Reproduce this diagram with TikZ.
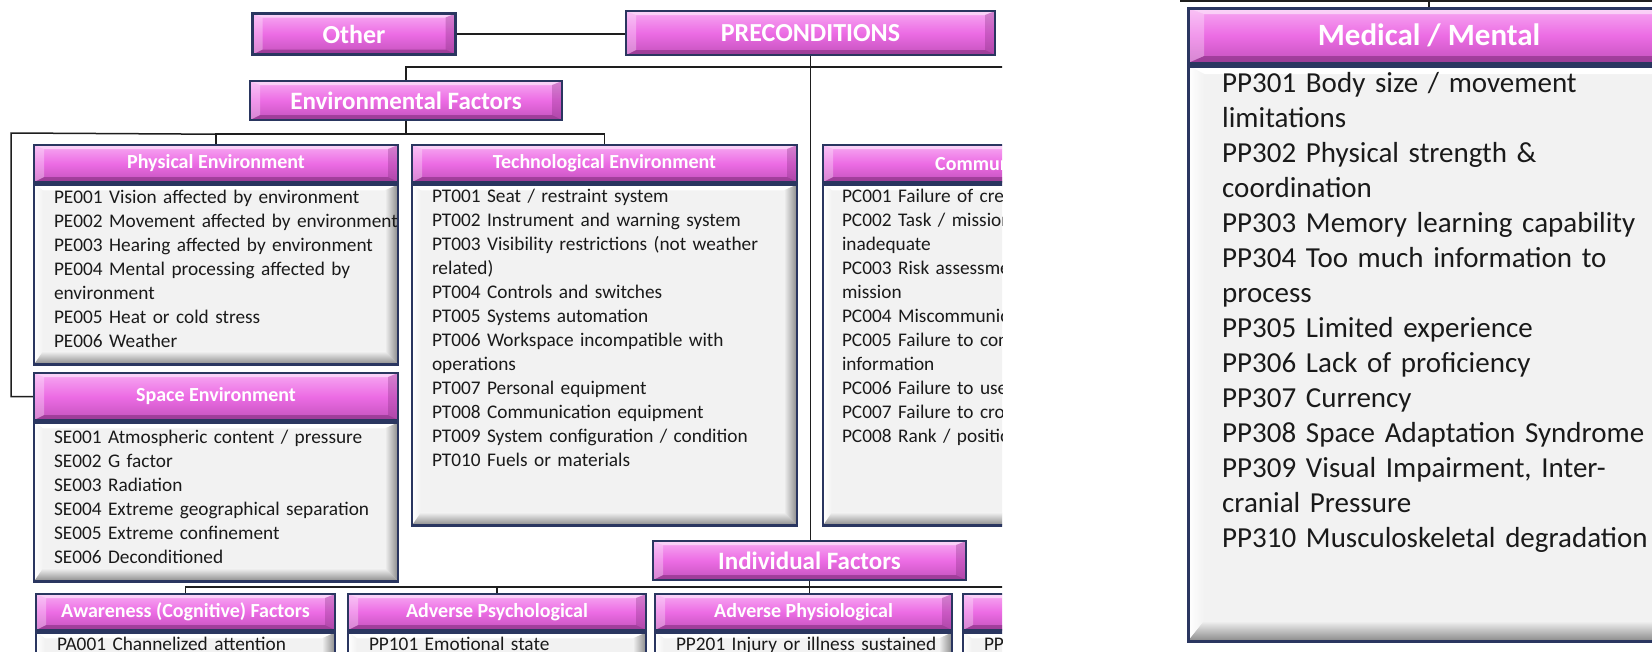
\documentclass[tikz,border=0pt]{standalone}
\usepackage{fontspec}
\setmainfont{Carlito}
\usetikzlibrary{calc}
\definecolor{navy}{HTML}{2A3660}
\definecolor{pkTop}{HTML}{F7A9F2}
\definecolor{pkMid}{HTML}{EC6CE4}
\definecolor{pkBot}{HTML}{C452BD}
\definecolor{pkDark}{HTML}{7E2B7A}
\definecolor{cFill}{HTML}{F2F2F2}
\definecolor{cEdge}{HTML}{8A8A8A}
\definecolor{lineC}{HTML}{1E1E1E}
\definecolor{txt}{HTML}{1A1A1A}
\newcommand{\bbx}{%
  \coordinate (q1) at (path picture bounding box.north west);
  \coordinate (q2) at (path picture bounding box.north east);
  \coordinate (q3) at (path picture bounding box.south east);
  \coordinate (q4) at (path picture bounding box.south west);}
% header bevel: #1 side width, #2 top, #3 bottom
\newcommand{\hbev}[3]{\bbx
  \fill[white,opacity=.5] (q1) -- (q2) -- ([xshift=-#1pt,yshift=-#2pt]q2) -- ([xshift=#1pt,yshift=-#2pt]q1) -- cycle;
  \fill[pkDark,opacity=.55] (q4) -- (q3) -- ([xshift=-#1pt,yshift=#3pt]q3) -- ([xshift=#1pt,yshift=#3pt]q4) -- cycle;
  \fill[white,opacity=.3] (q1) -- ([xshift=#1pt,yshift=-#2pt]q1) -- ([xshift=#1pt,yshift=#3pt]q4) -- (q4) -- cycle;
  \fill[pkDark,opacity=.3] (q2) -- ([xshift=-#1pt,yshift=-#2pt]q2) -- ([xshift=-#1pt,yshift=#3pt]q3) -- (q3) -- cycle;}
% content bevel: #1 left, #2 top, #3 right, #4 bottom
\newcommand{\cbev}[4]{\bbx
  \fill[white] (q1) -- (q2) -- ([xshift=-#3pt,yshift=-#2pt]q2) -- ([xshift=#1pt,yshift=-#2pt]q1) -- cycle;
  \shade[left color=white,right color=cFill] (q1) -- ([xshift=#1pt,yshift=-#2pt]q1) -- ([xshift=#1pt,yshift=#4pt]q4) -- (q4) -- cycle;
  \shade[left color=cFill,right color=cEdge] (q2) -- ([xshift=-#3pt,yshift=-#2pt]q2) -- ([xshift=-#3pt,yshift=#4pt]q3) -- (q3) -- cycle;
  \shade[top color=cFill,bottom color=cEdge] (q4) -- (q3) -- ([xshift=-#3pt,yshift=#4pt]q3) -- ([xshift=#1pt,yshift=#4pt]q4) -- cycle;}
\tikzset{
  hdr/.style={draw=navy, line width=2.4pt, top color=pkTop, bottom color=pkBot, middle color=pkMid,
    text=white, font=\bfseries\fontsize{20}{24}\selectfont, inner sep=0pt, path picture={\hbev{10}{4}{5}}},
  bighdr/.style={hdr, font=\bfseries\fontsize{26}{30}\selectfont},
  midhdr/.style={hdr, font=\bfseries\fontsize{25}{30}\selectfont},
  cbox/.style={draw=navy, line width=2.4pt, fill=cFill, inner sep=0pt, path picture={\cbev{9}{6}{13}{13}}},
  ctext/.style={anchor=north west, inner sep=0pt, align=left, text width=400pt, text=txt,
    font=\fontsize{19.3}{24}\selectfont},
  conn/.style={draw=lineC, line width=1.5pt},
}
\begin{document}
\begin{tikzpicture}[x=1pt,y=-1pt]
\useasboundingbox (0,0) rectangle (1652,651);
\fill[white] (0,0) rectangle (1652,651);
% ---------------- left part ----------------
\begin{scope}
\clip (0,0) rectangle (1002,651);
\coordinate (r1) at (1010,67);
\coordinate (lc) at (11,133);
\coordinate (r2) at (1010,587);
\node[bighdr, minimum width=203, minimum height=41] (other) at (354,34) {Other};
\node[bighdr, minimum width=369, minimum height=44] (pre) at (810.5,33) {PRECONDITIONS};
\node[midhdr, minimum width=312, minimum height=39] (env) at (406,100.5) {Environmental Factors};
\node[midhdr, minimum width=313, minimum height=39] (ind) at (809.5,560.5) {Individual Factors};
\coordinate (ej) at ($(env.south)+(0,13)$);
\coordinate (bj) at ($(ind.south)+(0,7)$);
% connectors (behind boxes)
\draw[conn] (other.east) -- (other.east -| pre.west);
\draw[conn] (pre.south) -- (pre.south |- ind.north);
\draw[conn] (env.north) |- (r1);
% physical / tech / space
\node[hdr, minimum width=364, minimum height=37] (peh) at (216,163.5) {Physical Environment};
\node[cbox, minimum width=364, minimum height=180, anchor=north] (pec) at (peh.south) {};
\node[hdr, minimum width=364, minimum height=47] (seh) at (216,396.5) {Space Environment};
\node[cbox, minimum width=364, minimum height=159, anchor=north] (sec) at (seh.south) {};
\node[hdr, minimum width=385, minimum height=37] (teh) at (604.5,163.5) {Technological Environment};
\node[cbox, minimum width=385, minimum height=341, anchor=north] (tec) at (teh.south) {};
\node[hdr, minimum width=385, minimum height=37] (cmh) at (1015.5,163.5) {};
\node[cbox, minimum width=385, minimum height=341, anchor=north] (cmc) at (cmh.south) {};
\node[anchor=west, inner sep=0pt, text=white, font=\bfseries\fontsize{20}{24}\selectfont] (cml) at (935,164) {Communication};
\draw[conn] (env.south) -- (ej);
\draw[conn] (peh.north) -- (peh.north |- ej) -- (teh.north |- ej) -- (teh.north);
\draw[conn] (peh.north |- ej) -- (lc) |- (seh.west);
% bottom row
\node[hdr, minimum width=299, minimum height=36] (awh) at (185.5,612) {Awareness (Cognitive) Factors};
\node[cbox, minimum width=299, minimum height=200, anchor=north] (awc) at (awh.south) {};
\node[hdr, minimum width=298, minimum height=36] (psh) at (497,612) {Adverse Psychological};
\node[cbox, minimum width=298, minimum height=200, anchor=north] (psc) at (psh.south) {};
\node[hdr, minimum width=297, minimum height=36] (phh) at (803.5,612) {Adverse Physiological};
\node[cbox, minimum width=297, minimum height=200, anchor=north] (phc) at (phh.south) {};
\node[hdr, minimum width=298, minimum height=36] (pmh) at (1112,612) {};
\node[cbox, minimum width=298, minimum height=200, anchor=north] (pmc) at (pmh.south) {};
\draw[conn] (ind.south) -- (ind.south |- phh.north);
\draw[conn] (awh.north) |- (r2);
\draw[conn] (psh.north) -- (psh.north |- bj);
% texts
\node[ctext] (pet) at ($(pec.north west)+(21,4)$) {\rule{0pt}{16pt}PE001 Vision affected by environment\\
PE002 Movement affected by environment\\
PE003 Hearing affected by environment\\
PE004 Mental processing affected by\\
environment\\
PE005 Heat or cold stress\\
PE006 Weather};
\node[ctext] (set) at ($(sec.north west)+(21,6)$) {\rule{0pt}{16pt}SE001 Atmospheric content / pressure\\
SE002 G factor\\
SE003 Radiation\\
SE004 Extreme geographical separation\\
SE005 Extreme confinement\\
SE006 Deconditioned};
\node[ctext] (tet) at ($(tec.north west)+(21,3)$) {\rule{0pt}{16pt}PT001 Seat / restraint system\\
PT002 Instrument and warning system\\
PT003 Visibility restrictions (not weather\\
related)\\
PT004 Controls and switches\\
PT005 Systems automation\\
PT006 Workspace incompatible with\\
operations\\
PT007 Personal equipment\\
PT008 Communication equipment\\
PT009 System configuration / condition\\
PT010 Fuels or materials};
\node[ctext] (cmt) at ($(cmc.north west)+(20,3)$) {\rule{0pt}{16pt}PC001 Failure of crew\\
PC002 Task / mission\\
inadequate\\
PC003 Risk assessment\\
mission\\
PC004 Miscommunication\\
PC005 Failure to con\\
information\\
PC006 Failure to use\\
PC007 Failure to cro\\
PC008 Rank / position};
\node[ctext] (awt) at ($(awc.north west)+(22,3)$) {\rule{0pt}{16pt}PA001 Channelized attention};
\node[ctext] (pst) at ($(psc.north west)+(22,3)$) {\rule{0pt}{16pt}PP101 Emotional state};
\node[ctext] (pht) at ($(phc.north west)+(22,3)$) {\rule{0pt}{16pt}PP201 Injury or illness sustained};
\node[ctext] (pmt) at ($(pmc.north west)+(22,3)$) {\rule{0pt}{16pt}PP};
\end{scope}
% ---------------- right part ----------------
\begin{scope}
\clip (1140,0) rectangle (1652,651);
\coordinate (tl) at (1180,1.2);
\coordinate (tr) at (1660,1.2);
\node[hdr, line width=3pt, font=\bfseries\fontsize{31}{36}\selectfont, minimum width=482, minimum height=55,
  path picture={\hbev{16}{6}{7}}] (mmh) at (1429,35.5) {Medical / Mental};
\node[cbox, line width=3pt, minimum width=482, minimum height=575, anchor=north,
  path picture={\cbev{16}{8}{18}{20}}] (mmc) at (mmh.south) {};
\draw[conn, line width=2.2pt] (tl) -- (tr);
\draw[conn, line width=2pt] (mmh.north) -- (mmh.north |- tl);
\node[ctext, text width=480pt, font=\fontsize{29}{35}\selectfont] (mmt) at (1222,70) {\rule{0pt}{22pt}PP301 Body size / movement\\
limitations\\
PP302 Physical strength \&\\
coordination\\
PP303 Memory learning capability\\
PP304 Too much information to\\
process\\
PP305 Limited experience\\
PP306 Lack of proficiency\\
PP307 Currency\\
PP308 Space Adaptation Syndrome\\
PP309 Visual Impairment, Inter-\\
cranial Pressure\\
PP310 Musculoskeletal degradation};
\end{scope}
\end{tikzpicture}
\end{document}
